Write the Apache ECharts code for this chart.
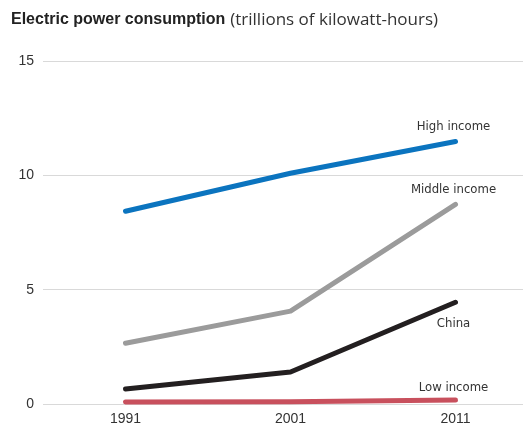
<!DOCTYPE html>
<html>
<head>
<meta charset="utf-8">
<script src="https://cdn.jsdelivr.net/npm/echarts@6/dist/echarts.min.js"></script>
<style>
  html, body { margin: 0; padding: 0; background: #fff; }
  #chart { width: 523px; height: 428px; }
</style>
</head>
<body>
<div id="chart"></div>
<script>
// data
var years = ['1991', '2001', '2011'];
var highIncome = [8.43, 10.09, 11.48];
var middleIncome = [2.66, 4.06, 8.73];
var china = [0.66, 1.4, 4.45];
var lowIncome = [0.09, 0.1, 0.17];
var yTicks = [0, 5, 10, 15];

var chart = echarts.init(document.getElementById('chart'));

function makeSeries(name, data, color, dy) {
  return {
    name: name,
    type: 'line',
    data: data,
    symbol: 'none',
    silent: true,
    lineStyle: { color: color, width: 5, cap: 'round', join: 'round' },
    // name sits next to the end of the line
    endLabel: {
      show: true,
      formatter: name,
      distance: 0,
      offset: [-2, dy],
      align: 'center',
      verticalAlign: 'middle',
      fontFamily: 'DejaVu Sans Condensed',
      fontSize: 13,
      color: '#333'
    },
    animation: false
  };
}

var option = {
  animation: false,
  title: {
    left: 6,
    top: 6,
    text: '{b|Electric power consumption} {n|(trillions of kilowatt-hours)}',
    textStyle: {
      rich: {
        b: { fontFamily: 'Liberation Sans', fontWeight: 'bold', fontSize: 16, color: '#222' },
        n: { fontFamily: 'Open Sans', fontWeight: 'normal', fontSize: 17, color: '#333' }
      }
    }
  },
  // grid runs past the right edge, as in the original
  grid: { left: 43, top: 61, bottom: 24, width: 495, containLabel: false, outerBoundsMode: 'none' },
  xAxis: {
    type: 'category',
    data: years,
    boundaryGap: true,
    axisLine: { show: false },
    axisTick: { show: false },
    axisLabel: { fontFamily: 'Liberation Sans', fontSize: 14, color: '#333', margin: 8 }
  },
  yAxis: {
    type: 'value',
    min: yTicks[0],
    max: yTicks[yTicks.length - 1],
    interval: 5,
    axisLine: { show: false },
    axisTick: { show: false },
    axisLabel: { fontFamily: 'Liberation Sans', fontSize: 14, color: '#333', margin: 9 },
    splitLine: { lineStyle: { color: '#d9d9d9', width: 1 } }
  },
  series: [
    makeSeries('High income', highIncome, '#0b74bf', -15),
    makeSeries('Middle income', middleIncome, '#9b9b9b', -15),
    makeSeries('China', china, '#231f20', 21),
    makeSeries('Low income', lowIncome, '#c8505d', -12)
  ]
};

chart.setOption(option);
</script>
</body>
</html>
